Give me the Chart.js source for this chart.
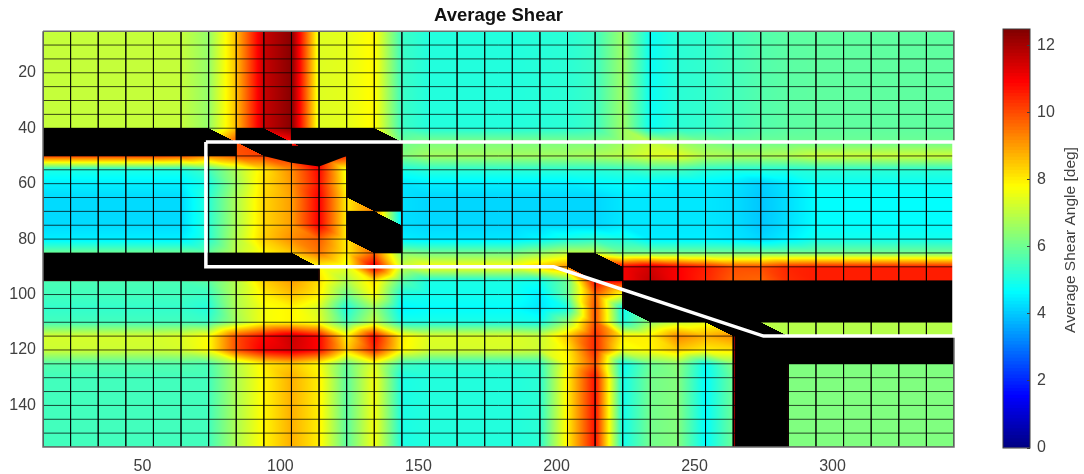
<!DOCTYPE html>
<html>
<head>
<meta charset="utf-8">
<title>Average Shear</title>
<script src="https://cdn.jsdelivr.net/npm/chart.js@4/dist/chart.umd.min.js"></script>
<style>
  html, body { margin: 0; padding: 0; background: #fff; overflow: hidden; }
  canvas { position: absolute; top: 0; }
  #shearMap { left: 0; }
  #shearBar { left: 990px; }
</style>
</head>
<body>
<canvas id="shearMap" width="990" height="474"></canvas>
<canvas id="shearBar" width="94" height="474"></canvas>
<script>
// ── DATA ──
const _ = null; // no reading at this node, the map stays black there

const shearX = [14, 24, 34, 44, 54, 64, 74, 84, 94, 104, 114, 124, 134, 144, 154, 164, 174,
                184, 194, 204, 214, 224, 234, 244, 254, 264, 274, 284, 294, 304, 314, 324, 334, 344];
const shearY = [5, 10, 15, 20, 25, 30, 35, 40, 45, 50, 55, 60, 65, 70, 75, 80, 85, 90, 95, 100,
                105, 110, 115, 120, 125, 130, 135, 140, 145, 150, 155];

const rowUpper = [7.1,7.1,7.1,7.1,7.1,7.1, 6.5,8.6,11.6,12.4,7.4,7.5,7.9,5.4, 5.1,5.1,5.1,5.1,5.15,5.2, 5.4,6.6,4.8,5.2,5.3,5.5,5.7,5.8, 5.85,5.85,5.85,5.85,5.85,5.85];
const row45 = [_,_,_,_,_,_, _,10,_,10.8,_,_,_,6, 6.2,6.2,6.2,6.2,6.2,6.2, 6.2,6.6,7,6.6,6.2,6,6,6, 6,6,6,6,6,6];
const row50 = [10.2,10.2,10.2,10.2,10.2,10, 9.3,9.9,10.2,10.5,11,10.5,_,6.3, 6.7,6.7,6.7,6.7,6.7,6.7, 6.8,7,7.4,7.5,6.9,6.8,6.8,6.9, 7.2,7.2,7.2,7.2,7.2,7.2];
const row55 = [5,5,5,5,5,5, 5.5,6.8,8.1,9.2,10.9,7.6,_,5, 5.2,5.2,5.2,5.2,5.2,5.2, 5.2,5.3,5.5,5.5,5.2,5.1,5.1,5.1, 5.2,5.2,5.2,5.2,5.2,5.2];
const row60 = [4.5,4.5,4.5,4.5,4.5,4.5, 5,6.6,8.2,9.1,10.8,7.7,_,4.4, 4.5,4.5,4.5,4.5,4.5,4.5, 4.6,4.7,4.6,4.5,4.5,4.4,4.1,4.4, 4.8,4.8,4.8,4.8,4.8,4.8];
const row65 = [4.25,4.25,4.25,4.25,4.25,4.25, 5.2,6.8,8.3,9,11,8,_,4.3, 4.2,4.2,4.2,4.2,4.2,4.2, 4.2,4.4,4.4,4.4,4.4,4.3,4,4.3, 4.7,4.7,4.7,4.7,4.7,4.7];
const row70 = [4.25,4.25,4.25,4.25,4.25,4.25, 5.2,6.8,8.3,9,11,8,9.5,4.3, 4.2,4.2,4.2,4.2,4.2,4.2, 4.2,4.4,4.4,4.4,4.4,4.3,4,4.3, 4.7,4.7,4.7,4.7,4.7,4.7];
const row80 = [4.5,4.5,4.5,4.5,4.5,4.5, 5.2,6.9,8.4,9.2,9.8,8,_,4.5, 4.4,4.4,4.4,4.4,4.6,5, 5.2,5,4.5,4.5,4.5,4.4,4.2,4.5, 4.9,4.9,4.9,4.9,4.9,4.9];
const row85 = [6,6,6,6,6,6, 5.9,7,7.9,8.5,9.5,8,9.8,6.3, 6.1,6.1,6.1,6.1,6.5,7, 7,6.1,6.1,6.1,6.1,6.1,6.1,6.1, 6.1,6.1,6.1,6.1,6.1,6.1];
const row90 = [_,_,_,_,_,_, _,_,_,_,7.9,7.5,11.2,7.2, 7.8,7.8,7.8,7.8,8.5,9.2, _,11,11.5,11,10.6,10,10,10.5, 10.6,10.6,10.6,10.6,10.6,10.6];
const row95 = [5.6,5.6,5.6,5.6,5.6,5.6, 5.8,6.9,8.4,9,8.2,6.8,8.2,5.8, 5,5,5,5,4.9,6, 11,11,11.7,11,10.5,9.8,9.7,10.4, 10.6,10.6,10.6,10.6,10.6,10.6];
const row100 = [5.5,5.5,5.5,5.5,5.5,5.5, 5.4,6.9,8,8.6,8,6,7.8,5, 4.9,4.9,4.9,4.9,4.5,5.9, 9.8,7.6,_,_,_,_,_,_, _,_,_,_,_,_];
const row105 = [5.3,5.3,5.3,5.3,5.3,5.3, 5.1,6.8,7.7,7.9,7.3,5,6.6,4.6, 4.7,4.7,4.7,4.7,4.4,5, 10,4.8,_,_,_,_,_,_, _,_,_,_,_,_];
const row110 = [5.5,5.5,5.5,5.5,5.5,5.5, 5.4,6.7,7.7,7.9,7.5,5.5,7.1,5, 5,5,5,5,4.9,6.5, 10,5,6.5,7.2,7.5,_,7,6.9, 6.9,6.9,6.9,6.9,6.9,6.9];
const row115 = [7.3,7.3,7.3,7.3,7.3,7.4, 7.8,10,10.9,11.6,10.9,8,10.9,8, 7.4,7.4,7.4,7.4,7.2,8.5, 10.5,8,8,9.3,8.8,9.2,_,6.9, 6.9,6.9,6.9,6.9,6.9,6.9];
const row120 = [7.2,7.2,7.2,7.2,7.2,7.3, 7.8,10,11.1,11.5,10.9,8.4,10.5,7.9, 7.3,7.3,7.3,7.3,7.2,8, 10.5,7.6,7.9,8.5,8,8.2,_,_, _,_,_,_,_,_];
const row125 = [5.7,5.7,5.7,5.7,5.7,5.7, 5.6,6.9,8,8.5,7.8,5.9,7.5,5.4, 5.25,5.25,5.25,5.25,5.3,7.8, 10,4.8,6,6.4,4.8,6.3,_,6.25, 6.25,6.25,6.25,6.25,6.25,6.25];
const rowLower = [5.5,5.5,5.5,5.5,5.5,5.5, 5.5,6.8,7.9,8.8,8,5.8,7.7,5, 5.1,5.1,5.1,5.1,5.2,8, 10.8,4.9,6.1,6.3,4.7,6,_,6.25, 6.25,6.25,6.25,6.25,6.25,6.25];

const shearRows = [
  rowUpper, rowUpper, rowUpper, rowUpper, rowUpper, rowUpper, rowUpper, rowUpper,
  row45, row50, row55, row60, row65, row70, row65, row80, row85, row90, row95,
  row100, row105, row110, row115, row120, row125,
  rowLower, rowLower, rowLower, rowLower, rowLower, rowLower
];

// overlaid sheet outline
const outlineX = [73, 344, 344, 275, 199, 73, 73];
const outlineY = [45, 45, 115, 115, 90, 90, 45];

// black wedge under the upper seam
const wedgeX = [94, 104, 114, 124];
const wedgeY = [50, 52.5, 53.8, 50];

// thin dark red rims along the seams (x1, y1, x2, y2)
const rimStartX = [124, 124, 144, 14, 114, 224, 264.5, 284];
const rimStartY = [52, 75, 45, 95, 91, 95, 115, 125];
const rimEndX = [124, 124, 144, 88, 114, 224, 264.5, 284];
const rimEndY = [70, 85, 85, 95, 95, 105, 155, 155];

const xTickLabels = [50, 100, 150, 200, 250, 300];
const yTickLabels = [20, 40, 60, 80, 100, 120, 140];
const barTickLabels = [0, 2, 4, 6, 8, 10, 12];
const BAR_MAX = 12.5;

// ── COLORMAP ──
function jet(v) {
  const t = 4 * Math.max(0, Math.min(1, v / BAR_MAX));
  const c = d => Math.round(255 * Math.max(0, Math.min(1, 1.5 - Math.abs(t - d))));
  return [c(3), c(2), c(1)];
}

// ── HEAT FIELD ──
// every cell is split into two triangles along the top-left / bottom-right diagonal
function nodeValue(xv, yv) {
  const col = Math.floor((xv - shearX[0]) / (shearX[1] - shearX[0]));
  const row = Math.floor((yv - shearY[0]) / (shearY[1] - shearY[0]));
  if (col < 0 || row < 0 || col >= shearX.length - 1 || row >= shearY.length - 1) return null;
  const u = (xv - shearX[col]) / (shearX[col + 1] - shearX[col]);
  const w = (yv - shearY[row]) / (shearY[row + 1] - shearY[row]);
  const tl = shearRows[row][col], br = shearRows[row + 1][col + 1];
  if (tl === null || br === null) return null;
  if (u >= w) {
    const tr = shearRows[row][col + 1];
    return tr === null ? null : tl + u * (tr - tl) + w * (br - tr);
  }
  const bl = shearRows[row + 1][col];
  return bl === null ? null : tl + w * (bl - tl) + u * (br - bl);
}

const heatField = {
  id: 'heatField',
  beforeDatasetsDraw(chart) {
    const { ctx, chartArea: a, scales: { x, y } } = chart;
    const left = Math.round(a.left), top = Math.round(a.top);
    const w = Math.round(a.right) - left, h = Math.round(a.bottom) - top;
    const sheet = document.createElement('canvas');
    sheet.width = w; sheet.height = h;
    const sctx = sheet.getContext('2d');
    const img = sctx.createImageData(w, h);
    for (let py = 0; py < h; py++) {
      const yv = y.getValueForPixel(top + py + 0.5);
      for (let px = 0; px < w; px++) {
        const v = nodeValue(x.getValueForPixel(left + px + 0.5), yv);
        const rgb = v === null ? [0, 0, 0] : jet(v);
        const k = (py * w + px) * 4;
        img.data[k] = rgb[0]; img.data[k + 1] = rgb[1]; img.data[k + 2] = rgb[2]; img.data[k + 3] = 255;
      }
    }
    sctx.putImageData(img, 0, 0);
    ctx.save();
    ctx.filter = 'blur(0.5px)';
    ctx.drawImage(sheet, left, top);
    ctx.restore();
  }
};

// ── MESH LINES ──
const meshPoints = [];
shearX.forEach(xv => meshPoints.push({ x: xv, y: shearY[0] }, { x: xv, y: shearY[shearY.length - 1] }, { x: xv, y: null }));
shearY.forEach(yv => meshPoints.push({ x: shearX[0], y: yv }, { x: shearX[shearX.length - 1], y: yv }, { x: shearX[0], y: null }));

const framePoints = [[0, 0], [1, 0], [1, 1], [0, 1], [0, 0]].map(([a, b]) => ({
  x: shearX[a * (shearX.length - 1)], y: shearY[b * (shearY.length - 1)]
}));

const rimPoints = [];
rimStartX.forEach((x0, i) => rimPoints.push({ x: x0, y: rimStartY[i] }, { x: rimEndX[i], y: rimEndY[i] }, { x: x0, y: null }));

const zip = (xs, ys) => xs.map((x, i) => ({ x, y: ys[i] }));

const FONT = "'Liberation Sans', Arial, sans-serif";
const TICK_COLOR = '#404040';

// ── MAIN MAP ──
new Chart(document.getElementById('shearMap'), {
  type: 'line',
  plugins: [heatField],
  data: {
    datasets: [
      { data: zip(wedgeX, wedgeY), fill: { value: 46.3 }, backgroundColor: '#000', borderWidth: 0, pointRadius: 0, tension: 0, order: 5 },
      { data: rimPoints, borderColor: 'rgba(170,0,0,0.45)', borderWidth: 1, pointRadius: 0, tension: 0, spanGaps: false, order: 4 },
      { data: meshPoints, borderColor: 'rgba(0,0,0,0.72)', borderWidth: 1, pointRadius: 0, tension: 0, spanGaps: false, order: 3 },
      { data: framePoints, borderColor: '#6e6e6e', borderWidth: 1.5, pointRadius: 0, tension: 0, clip: 2, order: 2 },
      { data: zip(outlineX, outlineY), borderColor: '#fff', borderWidth: 3.5, pointRadius: 0, tension: 0, borderJoinStyle: 'miter', clip: 2, order: 1 },
    ]
  },
  options: {
    responsive: false,
    animation: false,
    events: [],
    layout: { padding: { left: 0, right: 36, top: 0, bottom: 0 } },
    plugins: {
      legend: { display: false },
      tooltip: { enabled: false },
      title: {
        display: true,
        fullSize: false,
        text: 'Average Shear',
        color: '#111',
        font: { family: FONT, size: 18.5, weight: 'bold' },
        padding: { top: 5, bottom: 4 }
      }
    },
    scales: {
      x: {
        type: 'linear',
        min: shearX[0], max: shearX[shearX.length - 1],
        afterBuildTicks: s => { s.ticks = xTickLabels.map(value => ({ value })); },
        afterFit: s => { s.height = 27; },
        grid: { display: false, drawTicks: false },
        border: { display: false },
        ticks: { color: TICK_COLOR, font: { family: FONT, size: 16 }, padding: 10, maxRotation: 0 }
      },
      y: {
        type: 'linear',
        reverse: true,
        min: shearY[0], max: shearY[shearY.length - 1],
        afterBuildTicks: s => { s.ticks = yTickLabels.map(value => ({ value })); },
        afterFit: s => { s.width = 43; },
        grid: { display: false, drawTicks: false },
        border: { display: false },
        ticks: { color: TICK_COLOR, font: { family: FONT, size: 16 }, padding: 7 }
      }
    }
  }
});

// ── COLORBAR ──
const barSteps = Array.from({ length: 126 }, (_v, i) => i / 10);

const barFrame = {
  id: 'barFrame',
  afterDraw(chart) {
    const { ctx, chartArea: a } = chart;
    ctx.save();
    ctx.strokeStyle = '#3c3c3c';
    ctx.lineWidth = 1;
    ctx.strokeRect(a.left, a.top, a.right - a.left, a.bottom - a.top);
    ctx.fillStyle = TICK_COLOR;
    ctx.font = '15.5px ' + FONT;
    ctx.textAlign = 'center';
    ctx.textBaseline = 'middle';
    ctx.translate(81, 240);
    ctx.rotate(-Math.PI / 2);
    ctx.fillText('Average Shear Angle [deg]', 0, 0);
    ctx.restore();
  }
};

new Chart(document.getElementById('shearBar'), {
  type: 'bar',
  plugins: [barFrame],
  data: {
    labels: ['shear'],
    datasets: barSteps.map((lo, i) => {
      const [r, g, b] = jet(lo + 0.05);
      return {
        data: [[lo, BAR_MAX]],
        backgroundColor: `rgb(${r},${g},${b})`,
        borderWidth: 0,
        grouped: false,
        barPercentage: 1,
        categoryPercentage: 1,
        order: barSteps.length - i
      };
    })
  },
  options: {
    responsive: false,
    animation: false,
    events: [],
    layout: { padding: { left: 13, right: 0, top: 29, bottom: 26 } },
    plugins: { legend: { display: false }, tooltip: { enabled: false } },
    scales: {
      x: { display: false },
      y: {
        position: 'right',
        min: 0, max: BAR_MAX,
        afterBuildTicks: s => { s.ticks = barTickLabels.map(value => ({ value })); },
        afterFit: s => { s.width = 54; },
        grid: { drawOnChartArea: false, tickLength: -3, tickColor: '#3c3c3c', z: 1 },
        border: { display: false },
        ticks: { color: TICK_COLOR, font: { family: FONT, size: 16 }, padding: 10 }
      }
    }
  }
});
</script>
</body>
</html>
